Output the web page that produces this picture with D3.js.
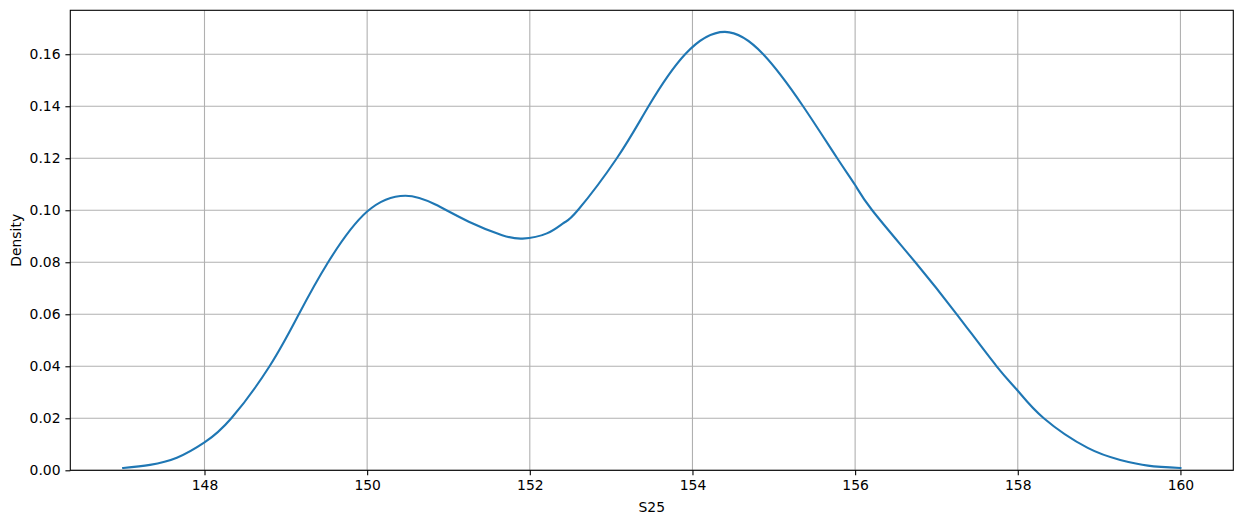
<!DOCTYPE html>
<html lang="en">
<head>
  <meta charset="UTF-8">
  <title>S25 density</title>
  <script src="https://d3js.org/d3.v7.min.js"></script>
  <style>
    body { margin: 0; background: #fff; }
    text { font-family: "DejaVu Sans", sans-serif; font-size: 13.9px; fill: #000; }
  </style>
</head>
<body>
  <div class="canvas"></div>
  <script>
    // density curve
    const xs = [147.0, 147.33, 147.66, 148.0, 148.33, 148.80, 149.16, 149.52, 150.0, 150.47,
                150.84, 151.25, 151.66, 151.91, 152.21, 152.42, 152.59, 153.07, 153.46, 153.91,
                154.40, 154.87, 155.36, 155.78, 156.0, 156.21, 156.74, 157.25, 157.74,
                158.0, 158.32, 158.86, 159.26, 159.6, 160.0];
    const density = [0.0009, 0.0021, 0.0048, 0.0107, 0.0200, 0.0400, 0.0600, 0.0800, 0.0995, 0.1056,
                     0.1022, 0.0956, 0.0904, 0.0891, 0.0911, 0.0952, 0.1000, 0.1200, 0.1400, 0.1600,
                     0.1686, 0.1600, 0.1400, 0.1200, 0.1097, 0.1000, 0.0800, 0.0600, 0.0400,
                     0.0306, 0.0200, 0.0086, 0.0040, 0.0018, 0.0009];
    const xTicks = [148, 150, 152, 154, 156, 158, 160];
    const yTicks = [0, 0.02, 0.04, 0.06, 0.08, 0.10, 0.12, 0.14, 0.16];

    const width = 1242, height = 525;
    const margin = { top: 10.3, right: 8.7, bottom: 54.7, left: 70.3 };
    const w = width - margin.left - margin.right;
    const h = height - margin.top - margin.bottom;

    const svg = d3.select('.canvas')
      .append('svg')
      .attr('width', width)
      .attr('height', height);

    const g = svg.append('g')
      .attr('transform', `translate(${margin.left}, ${margin.top})`);

    const x = d3.scaleLinear().domain([146.35, 160.65]).range([0, w]);
    const y = d3.scaleLinear().domain([0, 0.1769]).range([h, 0]);

    // grid
    g.append('g').selectAll('line')
      .data(xTicks)
      .enter().append('line')
      .attr('x1', d => x(d)).attr('x2', d => x(d))
      .attr('y1', 0).attr('y2', h)
      .attr('stroke', '#b0b0b0').attr('stroke-width', 1.1);
    g.append('g').selectAll('line')
      .data(yTicks)
      .enter().append('line')
      .attr('x1', 0).attr('x2', w)
      .attr('y1', d => y(d)).attr('y2', d => y(d))
      .attr('stroke', '#b0b0b0').attr('stroke-width', 1.1);

    // curve
    const pts = xs.map((v, i) => [v, density[i]]);
    g.append('path')
      .datum(pts)
      .attr('fill', 'none')
      .attr('stroke', '#1f77b4')
      .attr('stroke-width', 2.1)
      .attr('stroke-linecap', 'square')
      .attr('d', d3.line().x(d => x(d[0])).y(d => y(d[1])).curve(d3.curveNatural));

    // axes
    const xAxis = g.append('g')
      .attr('transform', `translate(0, ${h})`)
      .call(d3.axisBottom(x).tickValues(xTicks).tickSize(4.9).tickPadding(4.9).tickFormat(d3.format('d')));
    const yAxis = g.append('g')
      .call(d3.axisLeft(y).tickValues(yTicks).tickSize(4.9).tickPadding(4.9).tickFormat(d3.format('.2f')));
    [xAxis, yAxis].forEach(a => {
      a.select('.domain').remove();
      a.selectAll('line').attr('stroke', '#000').attr('stroke-width', 1.1);
      a.selectAll('text').attr('font-size', null).attr('font-family', null);
    });

    // frame
    g.append('rect')
      .attr('width', w).attr('height', h)
      .attr('fill', 'none').attr('stroke', '#000').attr('stroke-width', 1.1);

    svg.append('text')
      .attr('x', margin.left + w / 2)
      .attr('y', 512)
      .attr('text-anchor', 'middle')
      .text('S25');

    svg.append('text')
      .attr('transform', `translate(21, ${margin.top + h / 2}) rotate(-90)`)
      .attr('text-anchor', 'middle')
      .text('Density');
  </script>
</body>
</html>
